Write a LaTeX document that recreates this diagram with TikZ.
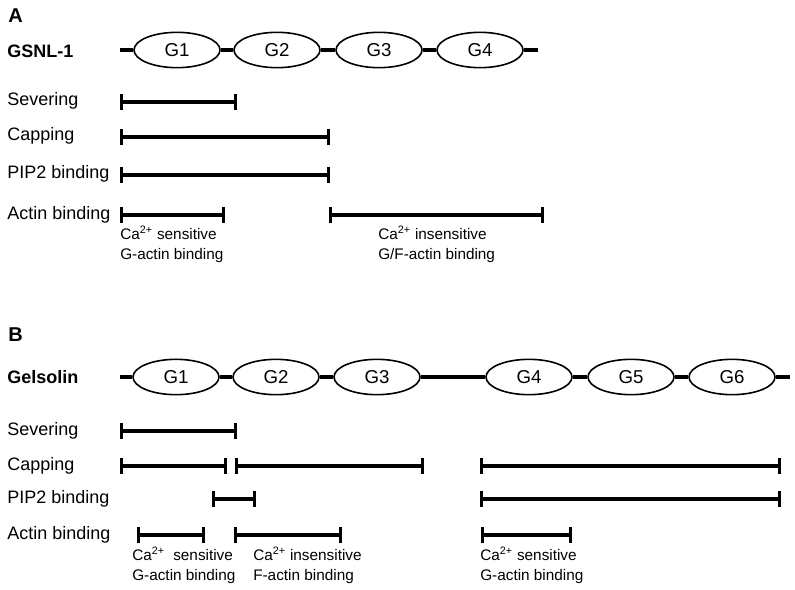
\documentclass[tikz,border=0pt]{standalone}
\usepackage{fontspec}
\setmainfont{Liberation Sans}
\usetikzlibrary{arrows.meta,shapes.geometric}

\newcommand{\lblX}{7}
\newcommand{\barL}{120}
\newcommand{\rowA}{50}
\newcommand{\rowB}{377}

\begin{document}
\begin{tikzpicture}[x=0.75pt,y=-0.75pt,
    dom/.style={ellipse,draw,line width=1.2pt,fill=white,minimum width=64.5pt,minimum height=26.5pt,inner sep=0pt,font=\fontsize{14}{16}\selectfont},
    chain/.style={line width=3.4pt},
    span/.style={line width=2.5pt,{Bar[width=12pt]}-{Bar[width=12pt]}},
    lbl/.style={anchor=base west,inner sep=0pt,font=\fontsize{13.5}{16}\selectfont},
    prot/.style={anchor=base west,inner sep=0pt,font=\bfseries\fontsize{13.5}{16}\selectfont},
    note/.style={anchor=base west,inner sep=0pt,align=left,font=\fontsize{11.5}{15}\selectfont}]

    \useasboundingbox (0,0) rectangle (795,589);

    % Panel A: GSNL-1
    \node[prot,font=\bfseries\fontsize{15}{16}\selectfont] (tA) at (8,22) {A};
    \node[prot] (gsnl) at (\lblX,57) {GSNL-1};
    \coordinate (aL) at (\barL,\rowA);
    \coordinate (aR) at (538,\rowA);
    \foreach \n/\x in {1/177,2/277,3/379,4/480}
        \node[dom] (a\n) at (\x,\rowA) {G\n};
    \draw[chain] (aL) -- (a1) -- (a2) -- (a3) -- (a4) -- (aR);

    \node[lbl] (aSev) at (\lblX,105) {Severing};
    \node[lbl] (aCap) at (\lblX,140) {Capping};
    \node[lbl] (aPip) at (\lblX,178) {PIP2 binding};
    \node[lbl] (aAct) at (\lblX,219) {Actin binding};

    \draw[span] (\barL,102) -- (237,102);
    \draw[span] (\barL,137) -- (330,137);
    \draw[span] (\barL,175) -- (330,175);
    \draw[span] (\barL,215) -- (225,215);
    \draw[span] (329,215) -- (544,215);

    % the base of a two-line note is its second line
    \node[note] (aN1) at (\barL,259) {Ca\textsuperscript{2+} sensitive\\G-actin binding};
    \node[note] (aN2) at (378,259) {Ca\textsuperscript{2+} insensitive\\G/F-actin binding};

    % Panel B: gelsolin
    \node[prot,font=\bfseries\fontsize{15}{16}\selectfont] (tB) at (8,341) {B};
    \node[prot] (gsn) at (\lblX,383) {Gelsolin};
    \coordinate (bL) at (\barL,\rowB);
    \coordinate (bR) at (790,\rowB);
    \foreach \n/\x in {1/176,2/276,3/377,4/529,5/631,6/732}
        \node[dom] (b\n) at (\x,\rowB) {G\n};
    \draw[chain] (bL) -- (b1) -- (b2) -- (b3) -- (b4) -- (b5) -- (b6) -- (bR);

    \node[lbl] (bSev) at (\lblX,435) {Severing};
    \node[lbl] (bCap) at (\lblX,470) {Capping};
    \node[lbl] (bPip) at (\lblX,503) {PIP2 binding};
    \node[lbl] (bAct) at (\lblX,539) {Actin binding};

    \draw[span] (\barL,431) -- (237,431);
    \draw[span] (\barL,466) -- (227,466);
    \draw[span] (235,466) -- (424,466);
    \draw[span] (480,466) -- (781,466);
    \draw[span] (212,499) -- (256,499);
    \draw[span] (480,499) -- (781,499);
    \draw[span] (137,535) -- (205,535);
    \draw[span] (234,535) -- (342,535);
    \draw[span] (481,535) -- (572,535);

    \node[note] (bN1) at (132,580) {Ca\textsuperscript{2+}\ \ sensitive\\G-actin binding};
    \node[note] (bN2) at (253,580) {Ca\textsuperscript{2+} insensitive\\F-actin binding};
    \node[note] (bN3) at (480,580) {Ca\textsuperscript{2+} sensitive\\G-actin binding};
\end{tikzpicture}
\end{document}
